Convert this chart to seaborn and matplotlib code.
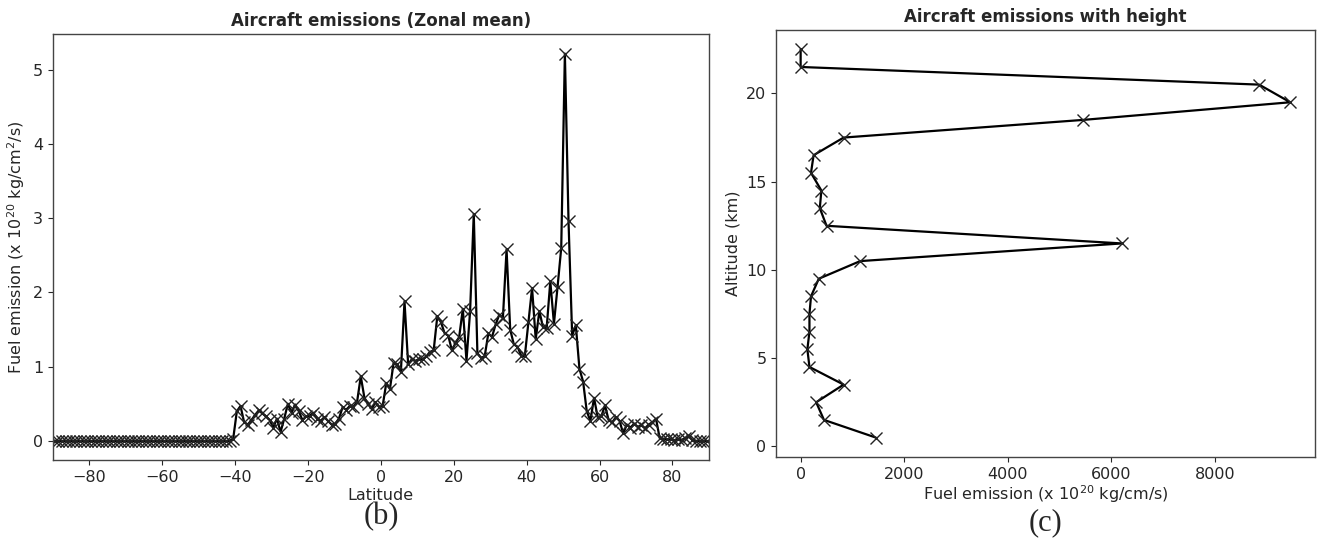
import numpy as np
import pandas as pd
import matplotlib
matplotlib.use("Agg")
import matplotlib.pyplot as plt
import seaborn as sns

# Zonal mean emissions on a 1 degree latitude grid (-89.5 .. 89.5)
latitude = np.arange(-89.5, 90.0, 1.0)
zonal_fuel = [
    # -89.5 .. -41.5
    0.0, 0.0, 0.0, 0.0, 0.0, 0.0, 0.0, 0.0, 0.0, 0.0,
    0.0, 0.0, 0.0, 0.0, 0.0, 0.0, 0.0, 0.0, 0.0, 0.0,
    0.0, 0.0, 0.0, 0.0, 0.0, 0.0, 0.0, 0.0, 0.0, 0.0,
    0.0, 0.0, 0.0, 0.0, 0.0, 0.0, 0.0, 0.0, 0.0, 0.0,
    0.0, 0.0, 0.0, 0.0, 0.0, 0.0, 0.0, 0.0, 0.0,
    # -40.5 .. -0.5
    0.03, 0.40, 0.47, 0.25, 0.22, 0.28, 0.35, 0.41, 0.37, 0.33,
    0.28, 0.18, 0.30, 0.12, 0.30, 0.50, 0.38, 0.49, 0.40, 0.28,
    0.33, 0.34, 0.38, 0.30, 0.27, 0.32, 0.27, 0.22, 0.23, 0.30,
    0.45, 0.42, 0.47, 0.46, 0.53, 0.87, 0.58, 0.50, 0.43, 0.52,
    0.46,
    # 0.5 .. 39.5
    0.47, 0.78, 0.70, 1.05, 1.03, 0.93, 1.88, 1.03, 1.10, 1.08,
    1.10, 1.10, 1.14, 1.20, 1.22, 1.68, 1.60, 1.45, 1.42, 1.22,
    1.32, 1.40, 1.78, 1.08, 1.75, 3.06, 1.18, 1.12, 1.14, 1.45,
    1.40, 1.57, 1.70, 1.66, 2.58, 1.50, 1.30, 1.27, 1.15, 1.14,
    # 40.5 .. 89.5
    1.60, 2.06, 1.37, 1.75, 1.53, 1.52, 2.15, 1.58, 2.08, 2.60,
    5.22, 2.96, 1.42, 1.56, 0.97, 0.80, 0.40, 0.27, 0.58, 0.32,
    0.33, 0.48, 0.28, 0.25, 0.32, 0.27, 0.10, 0.22, 0.18, 0.23,
    0.19, 0.21, 0.17, 0.22, 0.25, 0.30, 0.04, 0.03, 0.02, 0.02,
    0.01, 0.02, 0.01, 0.04, 0.06, 0.01, 0.0, 0.0, 0.0, 0.0,
]

# Vertical profile
altitude = [0.5, 1.5, 2.5, 3.5, 4.5, 5.5, 6.5, 7.5, 8.5, 9.5, 10.5, 11.5,
            12.5, 13.5, 14.5, 15.5, 16.5, 17.5, 18.5, 19.5, 20.5, 21.5, 22.5]
height_fuel = [1450, 450, 300, 830, 170, 130, 170, 170, 200, 350, 1150, 6200,
               500, 370, 400, 200, 250, 830, 5450, 9450, 8850, 0, 0]

zonal = pd.DataFrame({"lat": latitude, "fuel": zonal_fuel})
vert = pd.DataFrame({"alt": altitude, "fuel": height_fuel})

sns.set_style("ticks")
plt.rcParams["font.family"] = ["DejaVu Sans"]

fig = plt.figure(figsize=(13.2, 5.44), dpi=100)
ax1 = fig.add_axes([0.040, 0.154, 0.497, 0.783])
ax2 = fig.add_axes([0.588, 0.160, 0.408, 0.785])

# (b) zonal mean
sns.lineplot(data=zonal, x="lat", y="fuel", ax=ax1, color="black",
             marker="x", markersize=9, markeredgecolor="#222222",
             markeredgewidth=1.0, linewidth=1.6)
ax1.set_xlim(-90, 90)
ax1.set_title("Aircraft emissions (Zonal mean)", fontweight="bold", fontsize=12)
ax1.set_xlabel("Latitude", fontsize=11.5, labelpad=2)
ax1.set_ylabel("Fuel emission (x 10$^{20}$ kg/cm$^2$/s)", fontsize=11.5)
ax1.tick_params(labelsize=11.5)

# (c) with height
sns.lineplot(data=vert, x="fuel", y="alt", ax=ax2, orient="y", sort=False,
             color="black", marker="x", markersize=9,
             markeredgecolor="#222222", markeredgewidth=1.0, linewidth=1.6)
ax2.set_yticks([0, 5, 10, 15, 20])
ax2.set_title("Aircraft emissions with height", fontweight="bold", fontsize=12)
ax2.set_xlabel("Fuel emission (x 10$^{20}$ kg/cm/s)", fontsize=11.5, labelpad=1)
ax2.set_ylabel("Altitude (km)", fontsize=11.5)
ax2.tick_params(labelsize=11.5)

for ax in (ax1, ax2):
    for s in ax.spines.values():
        s.set_color("#444444")
        s.set_linewidth(1.0)

fig.text(0.289, 0.05, "(b)", ha="center", va="center", fontsize=22,
         family=["Liberation Serif"])
fig.text(0.792, 0.04, "(c)", ha="center", va="center", fontsize=22,
         family=["Liberation Serif"])

fig.savefig("out.png", dpi=100)
